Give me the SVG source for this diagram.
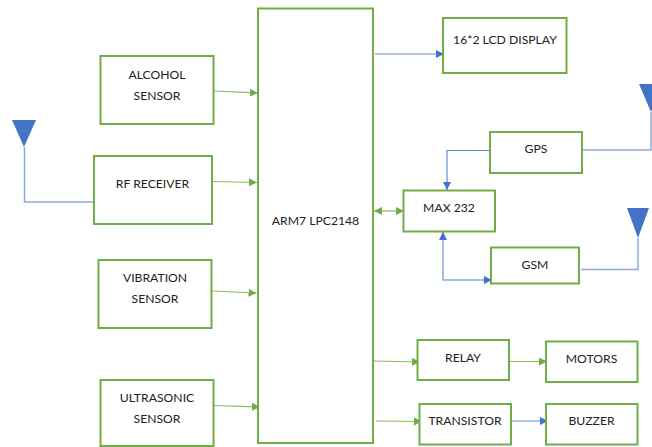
<svg xmlns="http://www.w3.org/2000/svg" width="652" height="447" viewBox="0 0 652 447">
<style>
text{font-family:"Lato","Open Sans","Liberation Sans",sans-serif;font-size:12.2px;fill:#222;text-anchor:middle}
.b{fill:#fff;stroke:#70ad47;stroke-width:2}
.g{fill:none;stroke:#84bb60;stroke-width:1.2}
.u{fill:none;stroke:#5f8bd0;stroke-width:1.2}
.w{fill:none;stroke:#8eaadb;stroke-width:1.5}
.a{fill:#4472c4}
</style>
<defs>
<marker id="ga" markerUnits="userSpaceOnUse" markerWidth="9" markerHeight="10" refX="8" refY="4" orient="auto-start-reverse"><path d="M0 0L8 4L0 8Z" fill="#70ad47"/></marker>
<marker id="ba" markerUnits="userSpaceOnUse" markerWidth="9" markerHeight="10" refX="8" refY="4" orient="auto-start-reverse"><path d="M0 0L8 4L0 8Z" fill="#4472c4"/></marker>
</defs>
<g id="connectors">
<path class="g" d="M214 91L258 93" marker-end="url(#ga)"/>
<path class="g" d="M212 181.500L257 182.500" marker-end="url(#ga)"/>
<path class="g" d="M212 291L256.500 293" marker-end="url(#ga)"/>
<path class="g" d="M214 405.500L260 407" marker-end="url(#ga)"/>
<path class="u" d="M375 54L444 54" marker-end="url(#ba)"/>
<path class="g" d="M374 211L404 211" marker-start="url(#ga)" marker-end="url(#ga)"/>
<path class="u" d="M492 150.500L447 150.500L447 190" marker-end="url(#ba)"/>
<path class="w" d="M443 232L443 280L491 280"/>
<path class="u" d="M443 240L443 232" marker-end="url(#ba)"/>
<path class="u" d="M483 280L492 280" marker-end="url(#ba)"/>
<path class="g" d="M374 361L420 362" marker-end="url(#ga)"/>
<path class="g" d="M510 361.500L547 361.500" marker-end="url(#ga)"/>
<path class="g" d="M376 421L422 421.500" marker-end="url(#ga)"/>
<path class="u" d="M512 421L548 421" marker-end="url(#ba)"/>
<path class="w" d="M24.500 147L24.500 202L94 202"/>
<path class="w" d="M583 150L651 150L651 112"/>
<path class="w" d="M581 269.500L638 269.500L638 238"/>
</g>
<g id="antenna-left"><path class="a" d="M12 120L36 120L24 147Z"/></g>
<g id="antenna-gps"><path class="a" d="M639 84L663 84L651 112Z"/></g>
<g id="antenna-gsm"><path class="a" d="M627 208L649 208L638 238Z"/></g>
<g id="arm"><rect class="b" x="258" y="8.500" width="115" height="434.500"/><text x="315.500" y="225">ARM7 LPC2148</text></g>
<g id="alcohol"><rect class="b" x="100.500" y="56" width="113" height="68"/><text x="157" y="79">ALCOHOL</text><text x="157" y="100">SENSOR</text></g>
<g id="rf"><rect class="b" x="94" y="156" width="118" height="68"/><text x="152.500" y="188">RF RECEIVER</text></g>
<g id="vibration"><rect class="b" x="98.500" y="260" width="113" height="68"/><text x="155" y="282">VIBRATION</text><text x="155" y="303">SENSOR</text></g>
<g id="ultrasonic"><rect class="b" x="100.500" y="380" width="113" height="66"/><text x="157" y="401.500">ULTRASONIC</text><text x="157" y="422.500">SENSOR</text></g>
<g id="lcd"><rect class="b" x="443" y="18" width="123.500" height="55"/><text x="505" y="43.500">16*2 LCD DISPLAY</text></g>
<g id="gps"><rect class="b" x="490" y="132" width="92" height="41"/><text x="536" y="153">GPS</text></g>
<g id="max232"><rect class="b" x="403.500" y="190.500" width="91.500" height="41"/><text x="449" y="212">MAX 232</text></g>
<g id="gsm"><rect class="b" x="491" y="247.500" width="88" height="36"/><text x="535" y="269">GSM</text></g>
<g id="relay"><rect class="b" x="417.500" y="340" width="91.500" height="40"/><text x="463" y="362">RELAY</text></g>
<g id="motors"><rect class="b" x="546" y="341.500" width="91.500" height="40.500"/><text x="591.500" y="363">MOTORS</text></g>
<g id="transistor"><rect class="b" x="419.500" y="404" width="91.500" height="40.500"/><text x="465" y="424.500">TRANSISTOR</text></g>
<g id="buzzer"><rect class="b" x="546" y="404" width="91.500" height="40.500"/><text x="591.500" y="424.500">BUZZER</text></g>
</svg>
